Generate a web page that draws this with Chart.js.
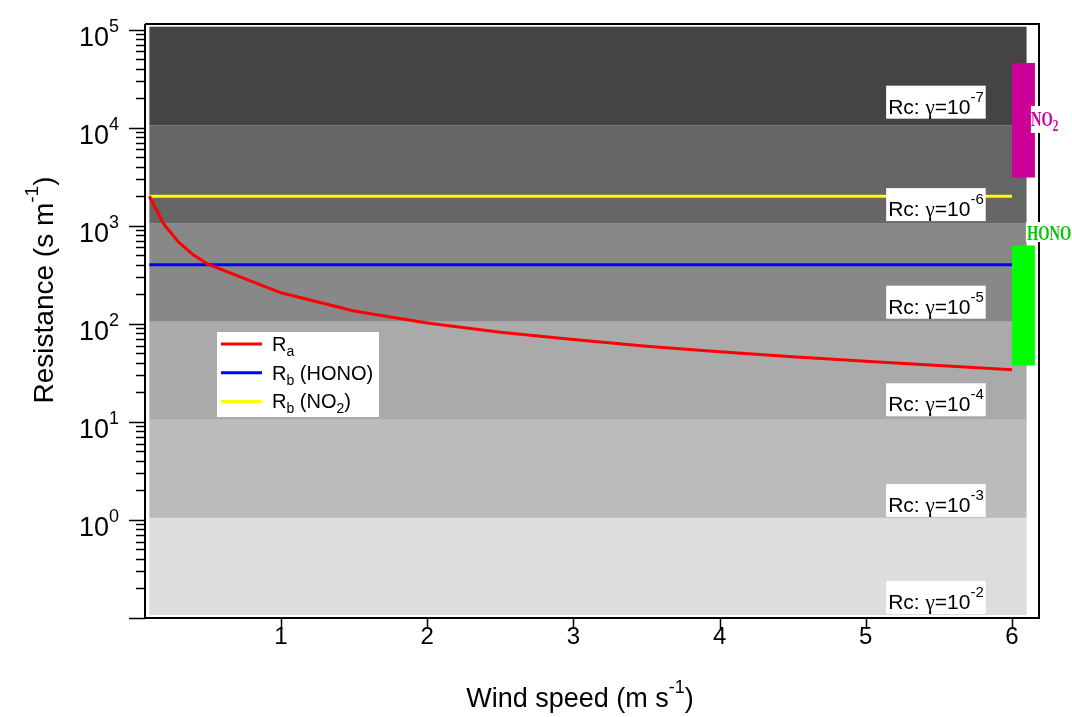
<!DOCTYPE html>
<html>
<head>
<meta charset="utf-8">
<script src="https://cdn.jsdelivr.net/npm/chart.js@4.4.1/dist/chart.umd.min.js"></script>
<style>
  html, body { margin: 0; padding: 0; background: #ffffff; }
  #wrap { width: 1072px; height: 717px; }
</style>
</head>
<body>
<div id="wrap"><canvas id="c" width="1072" height="717"></canvas></div>
<script>
// wind speed (m/s) and aerodynamic resistance Ra (s/m)
var windSpeed = [0.1, 0.2, 0.3, 0.4, 0.5, 1, 1.5, 2, 2.5, 3, 3.5, 4, 4.5, 5, 5.5, 6];
var raValues = [2000, 1030, 680, 505, 405, 207, 135, 102, 82, 69, 59, 52, 46, 41.5, 37.5, 34];

// quasi-laminar resistance Rb, constant with wind speed
var rbSpeed = [0.1, 6];
var rbHono = [400, 400];
var rbNo2 = [2000, 2000];

// Rc shading bands, bottom to top
var bandEdges = [0.107, 1.05, 10.5, 105, 1050, 10500, 107000];
var bandColors = ['#dddddd', '#bbbbbb', '#aaaaaa', '#888888', '#666666', '#444444'];
var bandRange = [0.1, 6.1];
var rcGamma = ['-2', '-3', '-4', '-5', '-6', '-7'];
var rcLabelAt = [0.164, 1.6, 17, 168, 1660, 18400];
var rcLabelX = 5.48;

// observed ranges of total resistance per gas
var gasNames = ['NO2', 'HONO'];
var gasLow = [3100, 37.6];
var gasHigh = [45700, 630];
var gasColors = ['#cc0099', '#00ff00'];
var gasTextColors = ['#cc0099', '#00c800'];
var gasRange = [6.0, 6.157];

// axes
var xTicks = [1, 2, 3, 4, 5, 6];
var yMajorExp = [0, 1, 2, 3, 4, 5];
var xMin = 0.07, xMax = 6.185;
var yMin = 0.1, yMax = 114000;

var SANS = 'Arial, "Liberation Sans", sans-serif';
var SERIF = '"Liberation Serif", "Times New Roman", serif';

// draws a run of text parts; each part may be raised (sup) or lowered (sub)
function partFont(p) {
  return (p.bold ? 'bold ' : '') + p.size + 'px ' + (p.family || SANS);
}

function richWidth(ctx, parts) {
  var w = 0;
  for (var i = 0; i < parts.length; i += 1) {
    ctx.font = partFont(parts[i]);
    w += ctx.measureText(parts[i].t).width;
  }
  return w;
}

function drawRich(ctx, parts, x, y, align) {
  var w = richWidth(ctx, parts);
  var cx = align === 'center' ? x - w / 2 : align === 'right' ? x - w : x;
  ctx.textAlign = 'left';
  ctx.textBaseline = 'alphabetic';
  for (var i = 0; i < parts.length; i += 1) {
    var p = parts[i];
    ctx.font = partFont(p);
    ctx.fillStyle = p.color || '#000000';
    ctx.fillText(p.t, cx, y + (p.dy || 0));
    cx += ctx.measureText(p.t).width;
  }
  return w;
}

var resistancePlugin = {
  id: 'resistancePlugin',
  beforeDatasetsDraw: function (chart) {
    var ctx = chart.ctx;
    var xs = chart.scales.x;
    var ys = chart.scales.y;
    ctx.save();
    var bx0 = xs.getPixelForValue(bandRange[0]);
    var bx1 = xs.getPixelForValue(bandRange[1]);
    for (var i = 0; i < bandColors.length; i += 1) {
      var yTop = ys.getPixelForValue(bandEdges[i + 1]);
      var yBot = ys.getPixelForValue(bandEdges[i]);
      ctx.fillStyle = bandColors[i];
      ctx.fillRect(bx0, yTop, bx1 - bx0, yBot - yTop);
    }
    ctx.restore();
  },
  afterDatasetsDraw: function (chart) {
    var ctx = chart.ctx;
    var xs = chart.scales.x;
    var ys = chart.scales.y;
    ctx.save();

    // gas bars
    var gx0 = xs.getPixelForValue(gasRange[0]);
    var gx1 = xs.getPixelForValue(gasRange[1]);
    for (var g = 0; g < gasNames.length; g += 1) {
      var gt = ys.getPixelForValue(gasHigh[g]);
      var gb = ys.getPixelForValue(gasLow[g]);
      ctx.fillStyle = gasColors[g];
      ctx.fillRect(gx0, gt, gx1 - gx0, gb - gt);
    }

    // Rc labels in white boxes
    var lx = xs.getPixelForValue(rcLabelX);
    for (var r = 0; r < rcGamma.length; r += 1) {
      var ly = ys.getPixelForValue(rcLabelAt[r]);
      var parts = [
        { t: 'Rc: ', size: 21 },
        { t: '\u03b3', size: 21, family: SERIF },
        { t: '=10', size: 21 },
        { t: rcGamma[r], size: 15, dy: -12 },
      ];
      var w = richWidth(ctx, parts);
      ctx.fillStyle = '#ffffff';
      ctx.fillRect(lx - w / 2 - 2, ly - 16, w + 4, 33);
      drawRich(ctx, parts, lx, ly + 12, 'center');
    }

    // legend
    var lg = chart.data.datasets;
    ctx.fillStyle = '#ffffff';
    ctx.fillRect(217, 332, 162, 85);
    var legendText = [
      [{ t: 'R', size: 20 }, { t: 'a', size: 14, dy: 5 }],
      [{ t: 'R', size: 20 }, { t: 'b', size: 14, dy: 5 }, { t: ' (HONO)', size: 20 }],
      [{ t: 'R', size: 20 }, { t: 'b', size: 14, dy: 5 }, { t: ' (NO', size: 20 }, { t: '2', size: 14, dy: 5 }, { t: ')', size: 20 }],
    ];
    for (var k = 0; k < lg.length; k += 1) {
      var yy = 344 + k * 28.7;
      ctx.strokeStyle = lg[k].borderColor;
      ctx.lineWidth = 3;
      ctx.beginPath();
      ctx.moveTo(221, yy);
      ctx.lineTo(262, yy);
      ctx.stroke();
      drawRich(ctx, legendText[k], 272, yy + 7, 'left');
    }
    ctx.restore();
  },
  afterDraw: function (chart) {
    var ctx = chart.ctx;
    var xs = chart.scales.x;
    var ys = chart.scales.y;
    var a = chart.chartArea;
    ctx.save();

    // gas name tags (condensed serif on white)
    var tagX = xs.getPixelForValue(gasRange[1]);
    ctx.fillStyle = '#ffffff';
    ctx.fillRect(tagX - 4, 106, 31, 27);
    ctx.fillRect(tagX - 9, 222, 46, 20);
    var tagY = [126, 240];
    var tagLeft = [tagX - 4, tagX - 8];
    for (var g = 0; g < gasNames.length; g += 1) {
      ctx.save();
      ctx.translate(tagLeft[g], tagY[g]);
      ctx.scale(0.66, 1);
      if (gasNames[g] === 'NO2') {
        drawRich(ctx, [
          { t: 'NO', size: 22, bold: true, family: SERIF, color: gasTextColors[g] },
          { t: '2', size: 17, bold: true, family: SERIF, color: gasTextColors[g], dy: 5 },
        ], 0, 0, 'left');
      } else {
        drawRich(ctx, [{ t: gasNames[g], size: 22, bold: true, family: SERIF, color: gasTextColors[g] }], 0, 0, 'left');
      }
      ctx.restore();
    }

    // frame (drawn around the tags so the tags break it)
    ctx.strokeStyle = '#000000';
    ctx.lineWidth = 2;
    ctx.beginPath();
    ctx.moveTo(a.left, a.top);
    ctx.lineTo(a.left, a.bottom);
    ctx.lineTo(a.right, a.bottom);
    ctx.lineTo(a.right, 242);
    ctx.moveTo(a.right, 222);
    ctx.lineTo(a.right, 133);
    ctx.moveTo(a.right, 106);
    ctx.lineTo(a.right, a.top);
    ctx.lineTo(a.left, a.top);
    ctx.stroke();

    // y ticks: major and minor
    ctx.lineWidth = 1.5;
    ctx.beginPath();
    for (var e = -1; e <= 5; e += 1) {
      for (var m = 1; m <= 9; m += 1) {
        var v = m * Math.pow(10, e);
        if (v < yMin || v > yMax) continue;
        var py = Math.round(ys.getPixelForValue(v)) + 0.5;
        var len = m === 1 ? 16 : 9;
        ctx.moveTo(a.left, py);
        ctx.lineTo(a.left - len, py);
      }
    }
    // x ticks
    for (var t = 0; t < xTicks.length; t += 1) {
      var px = Math.round(xs.getPixelForValue(xTicks[t])) + 0.5;
      ctx.moveTo(px, a.bottom);
      ctx.lineTo(px, a.bottom + 11);
    }
    ctx.stroke();

    // y tick labels
    for (var j = 0; j < yMajorExp.length; j += 1) {
      var ty = ys.getPixelForValue(Math.pow(10, yMajorExp[j]));
      drawRich(ctx, [
        { t: '10', size: 27 },
        { t: String(yMajorExp[j]), size: 18, dy: -14 },
      ], 119, ty + 16, 'right');
    }
    // x tick labels
    for (var q = 0; q < xTicks.length; q += 1) {
      drawRich(ctx, [{ t: String(xTicks[q]), size: 24 }], xs.getPixelForValue(xTicks[q]), 644, 'center');
    }

    // axis titles
    drawRich(ctx, [
      { t: 'Wind speed (m s', size: 27 },
      { t: '-1', size: 18, dy: -14 },
      { t: ')', size: 27 },
    ], 580, 707, 'center');

    ctx.save();
    ctx.translate(53, 290);
    ctx.rotate(-Math.PI / 2);
    drawRich(ctx, [
      { t: 'Resistance (s m', size: 28 },
      { t: '-1', size: 19, dy: -15 },
      { t: ')', size: 28 },
    ], 0, 0, 'center');
    ctx.restore();

    ctx.restore();
  },
};

function pts(xv, yv) {
  return xv.map(function (x, i) { return { x: x, y: yv[i] }; });
}

new Chart(document.getElementById('c'), {
  type: 'line',
  data: {
    datasets: [
      { label: 'Ra', data: pts(windSpeed, raValues), borderColor: '#ff0000', borderWidth: 3, pointRadius: 0, tension: 0, fill: false },
      { label: 'Rb (HONO)', data: pts(rbSpeed, rbHono), borderColor: '#0000ff', borderWidth: 3, pointRadius: 0, fill: false },
      { label: 'Rb (NO2)', data: pts(rbSpeed, rbNo2), borderColor: '#ffff00', borderWidth: 3, pointRadius: 0, fill: false },
    ],
  },
  options: {
    responsive: false,
    devicePixelRatio: 1,
    animation: false,
    layout: { padding: { top: 24, right: 33, left: 0, bottom: 0 } },
    plugins: { legend: { display: false }, tooltip: { enabled: false } },
    scales: {
      x: {
        type: 'linear',
        min: xMin,
        max: xMax,
        ticks: { display: false },
        grid: { display: false },
        border: { display: false },
        afterFit: function (s) { s.height = 717 - 618; },
      },
      y: {
        type: 'logarithmic',
        min: yMin,
        max: yMax,
        ticks: { display: false },
        grid: { display: false },
        border: { display: false },
        afterFit: function (s) { s.width = 145; },
      },
    },
  },
  plugins: [resistancePlugin],
});
</script>
</body>
</html>
